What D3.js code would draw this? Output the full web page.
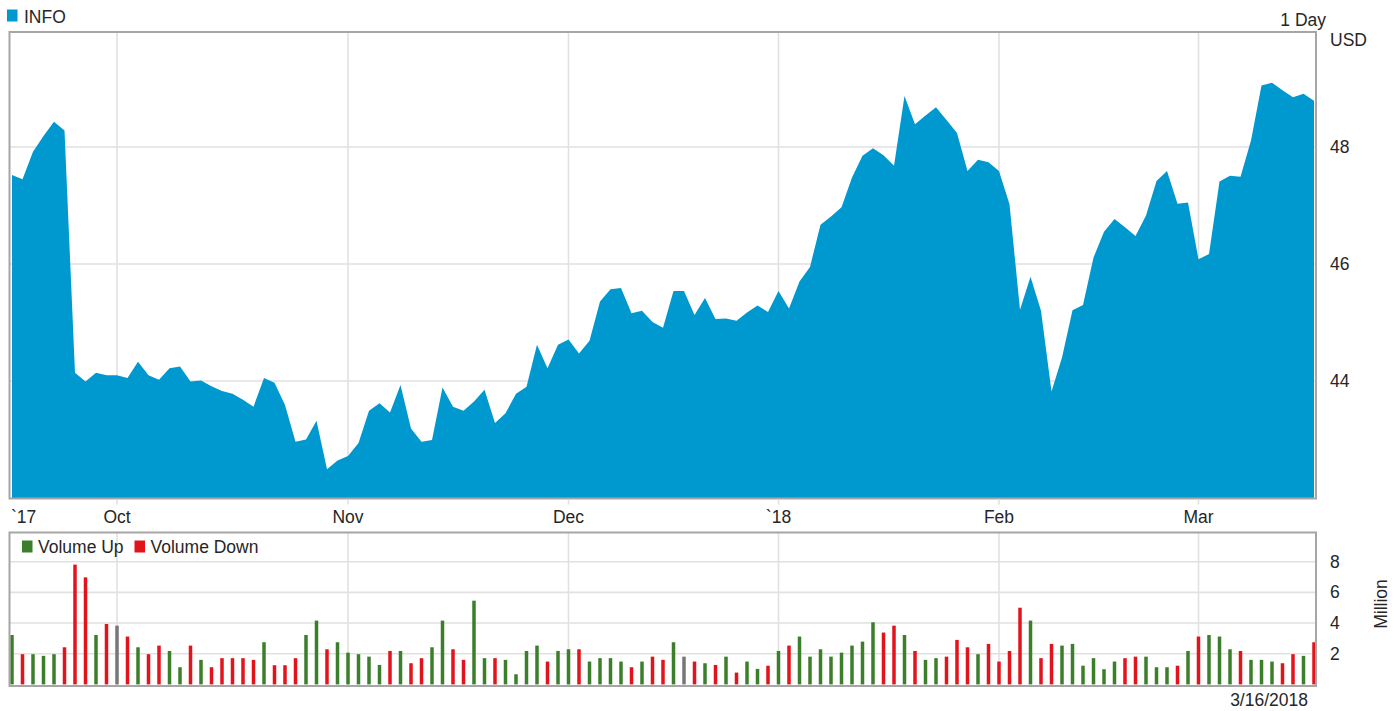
<!DOCTYPE html>
<html>
<head>
<meta charset="utf-8">
<script src="https://cdn.jsdelivr.net/npm/d3@7"></script>
<style>
    body { margin: 0; background: #fff; }
    svg { display: block; font-family: "Liberation Sans", Arial, sans-serif; }
    text { fill: #262626; font-size: 17.5px; }
</style>
</head>
<body>
<svg id="chart_svg" width="1396" height="711"></svg>
<script>
// trading calendar of the chart
const startDay = '2017-09-18';
const endDay = '2018-03-16';
const holidays = ['2017-11-23', '2017-12-25', '2018-01-01', '2018-01-15', '2018-02-19'];

// month ticks on the time axis
const tickDays = ['2017-09-18', '2017-10-02', '2017-11-01', '2017-12-01', '2018-01-02', '2018-02-01', '2018-03-01'];
const tickLabels = ['`17', 'Oct', 'Nov', 'Dec', '`18', 'Feb', 'Mar'];

// closing price, USD
const closes = [
    47.52, 47.45, 47.92, 48.19, 48.43, 48.28, 44.14, 43.99, 44.14, 44.10,
    44.10, 44.05, 44.33, 44.10, 44.02, 44.22, 44.25, 43.99, 44.01, 43.91,
    43.83, 43.78, 43.68, 43.56, 44.05, 43.97, 43.59, 42.96, 43.00, 43.32,
    42.49, 42.64, 42.72, 42.94, 43.49, 43.62, 43.46, 43.93, 43.19, 42.96,
    42.99, 43.89, 43.56, 43.49, 43.65, 43.85, 43.28, 43.45, 43.78, 43.90,
    44.62, 44.22, 44.62, 44.71, 44.47, 44.69, 45.36, 45.57, 45.59, 45.16,
    45.20, 45.01, 44.91, 45.54, 45.54, 45.13, 45.42, 45.06, 45.07, 45.03,
    45.17, 45.29, 45.18, 45.54, 45.24, 45.70, 45.95, 46.67, 46.81, 46.97,
    47.48, 47.85, 47.98, 47.86, 47.68, 48.87, 48.39, 48.54, 48.68, 48.46,
    48.24, 47.59, 47.78, 47.74, 47.59, 47.02, 45.22, 45.78, 45.20, 43.82,
    44.40, 45.21, 45.30, 46.11, 46.55, 46.77, 46.63, 46.48, 46.83, 47.42,
    47.59, 47.03, 47.05, 46.08, 46.17, 47.41, 47.51, 47.49, 48.11, 49.05,
    49.10, 48.97, 48.85, 48.91, 48.79
];

// daily volume, million shares
const volumes = [
    3.22, 1.97, 1.97, 1.86, 1.97, 2.42, 7.81, 6.98, 3.22, 3.94,
    3.83, 3.12, 2.42, 1.97, 2.53, 2.18, 1.12, 2.53, 1.60, 1.12,
    1.71, 1.71, 1.71, 1.60, 2.75, 1.25, 1.25, 1.71, 3.22, 4.16,
    2.29, 2.75, 2.07, 1.97, 1.81, 1.27, 2.18, 2.18, 1.38, 1.71,
    2.42, 4.16, 2.29, 1.60, 5.46, 1.71, 1.71, 1.60, 0.66, 2.18,
    2.53, 1.49, 2.18, 2.29, 2.29, 1.49, 1.71, 1.71, 1.49, 1.12,
    1.49, 1.81, 1.60, 2.75, 1.81, 1.49, 1.38, 1.27, 1.81, 0.77,
    1.49, 1.01, 1.22, 2.18, 2.53, 3.12, 1.81, 2.29, 1.81, 2.07,
    2.53, 2.79, 4.05, 3.38, 3.83, 3.22, 2.18, 1.60, 1.71, 1.81,
    2.90, 2.42, 1.97, 2.64, 1.49, 2.18, 5.00, 4.16, 1.71, 2.64,
    2.53, 2.64, 1.22, 1.71, 0.99, 1.49, 1.71, 1.81, 1.81, 1.12,
    1.12, 1.22, 2.18, 3.12, 3.22, 3.12, 2.29, 2.18, 1.60, 1.60,
    1.49, 1.38, 1.97, 1.86, 2.75
];

const priceTicks = [44, 46, 48];
const volumeTicks = [2, 4, 6, 8];

const fmt = d3.utcFormat('%Y-%m-%d');
const parse = d3.utcParse('%Y-%m-%d');

/**
 * Business days between start and end, without market holidays.
 */
const days = d3.utcDay
    .range(parse(startDay), d3.utcDay.offset(parse(endDay), 1))
    .filter((d) => d.getUTCDay() % 6 !== 0 && !holidays.includes(fmt(d)))
    .map(fmt);

const data = days.map((d, i) => ({
    day: d,
    close: closes[i],
    volume: volumes[i],
    dir: i === 0 ? 1 : Math.sign(closes[i] - closes[i - 1]),
}));

/**
 * Panel geometry
 */
const panelLeft = 9.5;
const panelRight = 1316;
const price = { top: 32, bottom: 498.5 };
const vol = { top: 532.5, bottom: 686 };

const svg = d3.select('#chart_svg');

const xScale = d3.scalePoint().domain(days).range([12, 1314]);

const yPrice = d3.scaleLinear().domain([44, 48]).range([381, 147]);

const yVol = d3.scaleLinear().domain([0, 8]).range([684.4, 561.7]);

const gridColor = '#e1e1e1';
const borderColor = '#a6a6a6';

/**
 * Grids of both panels
 */
function drawGrid(panel, yTicks, yScale) {
    const g = svg.append('g');
    g.selectAll('.hgrid')
        .data(yTicks)
        .enter()
        .append('line')
        .attr('x1', panelLeft)
        .attr('x2', panelRight)
        .attr('y1', (d) => yScale(d))
        .attr('y2', (d) => yScale(d))
        .attr('stroke', gridColor)
        .attr('stroke-width', 1.6);
    g.selectAll('.vgrid')
        .data(tickDays.slice(1))
        .enter()
        .append('line')
        .attr('x1', (d) => xScale(d))
        .attr('x2', (d) => xScale(d))
        .attr('y1', panel.top)
        .attr('y2', panel.bottom)
        .attr('stroke', gridColor)
        .attr('stroke-width', 1.6);
    return g;
}

drawGrid(price, priceTicks, yPrice);
drawGrid(vol, volumeTicks, yVol);

/**
 * Price area
 */
const area = d3
    .area()
    .x((d) => xScale(d.day))
    .y0(price.bottom)
    .y1((d) => yPrice(d.close));

svg.append('path')
    .datum(data)
    .attr('d', area)
    .attr('fill', '#0099cf');

/**
 * Volume bars
 */
const barColor = (d) => (d.dir > 0 ? '#3b7f2b' : d.dir < 0 ? '#e3131b' : '#777777');

svg.append('g')
    .selectAll('rect')
    .data(data)
    .enter()
    .append('rect')
    .attr('x', (d) => xScale(d.day) - 1.75)
    .attr('width', 3.5)
    .attr('y', (d) => yVol(d.volume))
    .attr('height', (d) => yVol(0) - yVol(d.volume))
    .attr('fill', barColor);

/**
 * Panel borders
 */
[price, vol].forEach((p) => {
    svg.append('rect')
        .attr('x', panelLeft)
        .attr('y', p.top)
        .attr('width', panelRight - panelLeft)
        .attr('height', p.bottom - p.top)
        .attr('fill', 'none')
        .attr('stroke', borderColor)
        .attr('stroke-width', 2);
});

/**
 * Time axis between the panels
 */
const ticks = tickDays.map((d, i) => ({ day: d, label: tickLabels[i] }));

svg.append('g')
    .selectAll('line')
    .data(ticks.slice(1))
    .enter()
    .append('line')
    .attr('x1', (d) => xScale(d.day))
    .attr('x2', (d) => xScale(d.day))
    .attr('y1', price.bottom + 1)
    .attr('y2', price.bottom + 6)
    .attr('stroke', gridColor)
    .attr('stroke-width', 1.6);

svg.append('g')
    .selectAll('text')
    .data(ticks)
    .enter()
    .append('text')
    .attr('x', (d, i) => (i === 0 ? 11 : xScale(d.day)))
    .attr('y', 523)
    .attr('text-anchor', (d, i) => (i === 0 ? 'start' : 'middle'))
    .text((d) => d.label);

/**
 * Value labels on the right
 */
svg.append('g')
    .selectAll('text')
    .data(priceTicks)
    .enter()
    .append('text')
    .attr('x', 1330)
    .attr('y', (d) => yPrice(d) + 6)
    .text((d) => d);

svg.append('g')
    .selectAll('text')
    .data(volumeTicks)
    .enter()
    .append('text')
    .attr('x', 1330)
    .attr('y', (d) => yVol(d) + 6)
    .text((d) => d);

svg.append('text').attr('x', 1330).attr('y', 45.5).text('USD');
svg.append('text').attr('x', 1326).attr('y', 25.5).attr('text-anchor', 'end').text('1 Day');

svg.append('text')
    .attr('transform', 'translate(1387,604) rotate(-90)')
    .attr('text-anchor', 'middle')
    .text('Million');

svg.append('text').attr('x', 1308).attr('y', 706).attr('text-anchor', 'end').text('3/16/2018');

/**
 * Legends
 */
svg.append('rect').attr('x', 7).attr('y', 9.5).attr('width', 10.5).attr('height', 12).attr('fill', '#0099cf');
svg.append('text').attr('x', 24).attr('y', 22.5).text('INFO');

const volLegend = [
    { x: 22, color: '#3b7f2b', label: 'Volume Up' },
    { x: 134.5, color: '#e3131b', label: 'Volume Down' },
];

volLegend.forEach((l) => {
    svg.append('rect').attr('x', l.x).attr('y', 540.5).attr('width', 10.5).attr('height', 12).attr('fill', l.color);
    svg.append('text').attr('x', l.x + 16).attr('y', 553).text(l.label);
});
</script>
</body>
</html>
